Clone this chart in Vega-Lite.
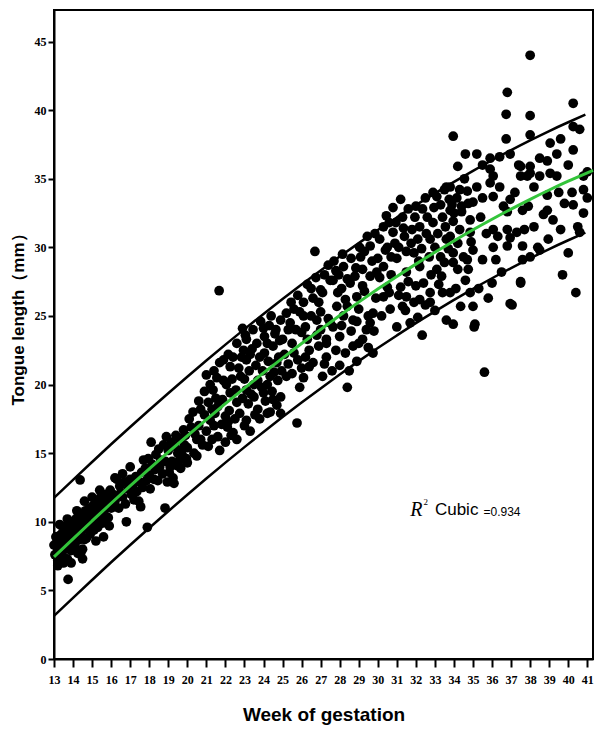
{
  "$schema": "https://vega.github.io/schema/vega-lite/v6.json",
  "width": 539,
  "height": 649,
  "autosize": {"type": "none"},
  "padding": {"left": 54, "top": 10, "right": 1, "bottom": 72},
  "background": "white",
  "config": {
    "view": {"stroke": "black", "strokeWidth": 2},
    "axis": {
      "grid": false,
      "domainColor": "black",
      "domainWidth": 2,
      "tickColor": "black",
      "tickWidth": 2,
      "labelColor": "black",
      "labelFont": "Liberation Serif, serif",
      "labelFontWeight": "bold",
      "labelFontSize": 12,
      "labelOverlap": false,
      "labelFlush": false,
      "titleColor": "black",
      "titleFontWeight": "bold",
      "titleFont": "Liberation Sans, Arial, sans-serif"
    },
    "axisX": {"tickSize": 8, "labelPadding": 7, "titleFontSize": 19, "titlePadding": 20},
    "axisY": {"tickSize": 6, "labelPadding": 2, "titleFontSize": 17, "titlePadding": 7, "titleY": 305}
  },
  "datasets": {
    "pts": [
      {"w":13.0,"t":8.3},{"w":13.05,"t":7.6},{"w":13.1,"t":8.9},{"w":13.2,"t":7.2},{"w":13.25,"t":8.0},{"w":13.3,"t":9.0},{"w":13.35,"t":7.5},{"w":13.4,"t":8.6},{"w":13.45,"t":9.2},{"w":13.5,"t":7.0},{"w":13.55,"t":8.2},{"w":13.6,"t":9.5},{"w":13.65,"t":8.8},{"w":13.7,"t":7.3},{"w":13.74,"t":5.8},{"w":13.75,"t":9.9},{"w":13.8,"t":8.4},{"w":13.85,"t":9.3},{"w":13.9,"t":7.9},{"w":13.95,"t":10.0},{"w":14.0,"t":8.9},{"w":14.05,"t":9.6},{"w":14.1,"t":8.3},{"w":14.15,"t":10.2},{"w":14.2,"t":9.1},{"w":14.25,"t":7.7},{"w":14.3,"t":9.8},{"w":14.35,"t":8.7},{"w":14.37,"t":13.05},{"w":14.4,"t":10.4},{"w":14.45,"t":9.3},{"w":14.5,"t":8.0},{"w":14.55,"t":10.0},{"w":14.6,"t":9.5},{"w":14.65,"t":10.8},{"w":14.7,"t":8.8},{"w":14.75,"t":10.3},{"w":14.8,"t":9.7},{"w":14.85,"t":11.0},{"w":14.9,"t":9.1},{"w":14.95,"t":10.5},{"w":15.0,"t":10.0},{"w":15.05,"t":11.2},{"w":15.1,"t":9.4},{"w":15.15,"t":10.7},{"w":15.2,"t":11.5},{"w":15.25,"t":10.1},{"w":15.3,"t":9.6},{"w":15.35,"t":11.0},{"w":15.4,"t":10.4},{"w":15.45,"t":11.8},{"w":15.5,"t":10.8},{"w":15.55,"t":9.9},{"w":15.6,"t":11.3},{"w":15.65,"t":10.5},{"w":15.7,"t":12.0},{"w":15.75,"t":11.0},{"w":15.8,"t":11.8},{"w":15.85,"t":10.3},{"w":15.9,"t":11.5},{"w":15.95,"t":12.3},{"w":16.0,"t":11.0},{"w":13.5,"t":7.4},{"w":13.9,"t":8.0},{"w":14.4,"t":7.7},{"w":14.6,"t":8.7},{"w":13.15,"t":8.5},{"w":13.6,"t":8.0},{"w":14.1,"t":9.5},{"w":14.8,"t":10.2},
      {"w":13.3,"t":9.8},{"w":13.7,"t":10.2},{"w":14.2,"t":10.8},{"w":14.6,"t":11.5},{"w":15.0,"t":11.8},{"w":15.4,"t":12.3},{"w":13.9,"t":7.0},{"w":14.5,"t":7.3},{"w":15.2,"t":8.6},{"w":15.6,"t":8.9},{"w":13.2,"t":6.8},{"w":15.9,"t":9.7},{"w":16.2,"t":13.2},{"w":16.6,"t":13.5},
      {"w":16.15,"t":11.1},{"w":16.3,"t":13.1},{"w":16.5,"t":12.1},{"w":16.8,"t":10.0},{"w":17.0,"t":14.0},{"w":17.2,"t":11.6},{"w":17.6,"t":13.6},{"w":17.7,"t":14.5},{"w":17.9,"t":9.6},{"w":18.1,"t":15.8},{"w":18.25,"t":13.1},{"w":18.6,"t":14.5},{"w":18.83,"t":11.0},{"w":18.9,"t":16.2},{"w":19.1,"t":14.0},{"w":19.3,"t":12.8},{"w":19.7,"t":15.2},{"w":19.8,"t":16.7},{"w":20.0,"t":14.3},{"w":16.1,"t":12.0},{"w":16.2,"t":11.5},{"w":16.4,"t":11.0},{"w":16.45,"t":12.6},{"w":16.6,"t":11.8},{"w":16.7,"t":12.9},{"w":16.75,"t":11.3},{"w":16.9,"t":12.4},{"w":17.0,"t":13.1},{"w":17.05,"t":12.0},{"w":17.15,"t":12.7},{"w":17.3,"t":13.3},{"w":17.35,"t":12.2},{"w":17.45,"t":11.5},{"w":17.5,"t":12.9},{"w":17.55,"t":11.1},{"w":17.65,"t":12.5},{"w":17.8,"t":13.9},{"w":17.85,"t":13.0},{"w":17.95,"t":14.6},{"w":18.0,"t":13.4},{"w":18.05,"t":12.4},{"w":18.15,"t":14.2},{"w":18.3,"t":13.8},{"w":18.35,"t":14.9},{"w":18.45,"t":13.0},{"w":18.5,"t":15.3},{"w":18.55,"t":14.0},{"w":18.7,"t":13.5},{"w":18.75,"t":15.6},{"w":18.85,"t":14.4},{"w":18.95,"t":12.9},{"w":19.0,"t":15.2},{"w":19.05,"t":13.6},{"w":19.15,"t":15.8},{"w":19.2,"t":14.4},{"w":19.25,"t":13.2},{"w":19.35,"t":15.5},{"w":19.4,"t":16.3},{"w":19.45,"t":14.1},{"w":19.5,"t":15.0},{"w":19.55,"t":16.1},{"w":19.6,"t":14.5},{"w":19.65,"t":13.9},{"w":19.75,"t":14.8},{"w":19.85,"t":15.6},{"w":19.9,"t":16.3},{"w":19.95,"t":14.6},{"w":20.0,"t":15.4},
      {"w":20.35,"t":15.0},{"w":20.7,"t":18.2},{"w":20.5,"t":16.0},{"w":20.2,"t":16.9},{"w":21.6,"t":18.4},{"w":22.6,"t":18.7},{"w":23.7,"t":18.2},{"w":24.35,"t":18.0},{"w":24.9,"t":17.9},{"w":21.2,"t":17.4},{"w":22.1,"t":16.9},{"w":23.1,"t":17.4},{"w":20.7,"t":16.0},{"w":21.6,"t":16.2},{"w":22.4,"t":16.5},{"w":21.7,"t":15.2},{"w":21.35,"t":19.6},{"w":22.25,"t":19.4},{"w":23.1,"t":19.6},{"w":24.0,"t":19.4},{"w":24.9,"t":19.1},{"w":21.0,"t":20.7},{"w":21.9,"t":20.3},{"w":22.8,"t":20.6},{"w":23.7,"t":20.3},{"w":24.35,"t":20.6},{"w":22.25,"t":21.3},{"w":21.7,"t":21.6},{"w":23.1,"t":21.8},{"w":23.8,"t":22.0},{"w":24.7,"t":21.6},{"w":22.9,"t":24.1},{"w":24.0,"t":24.1},{"w":24.9,"t":24.7},{"w":23.1,"t":23.3},{"w":24.2,"t":23.0},{"w":21.67,"t":26.84},{"w":20.1,"t":17.5},{"w":20.4,"t":16.4},{"w":20.6,"t":17.0},{"w":20.8,"t":15.6},{"w":20.9,"t":17.8},{"w":21.0,"t":16.6},{"w":21.1,"t":18.7},{"w":21.3,"t":16.0},{"w":21.45,"t":17.9},{"w":21.5,"t":19.0},{"w":21.8,"t":17.1},{"w":21.85,"t":18.9},{"w":22.0,"t":17.7},{"w":22.05,"t":20.0},{"w":22.2,"t":18.1},{"w":22.3,"t":16.3},{"w":22.35,"t":20.4},{"w":22.5,"t":17.5},{"w":22.55,"t":19.6},{"w":22.7,"t":21.2},{"w":22.75,"t":17.9},{"w":22.9,"t":19.0},{"w":22.95,"t":22.5},{"w":23.0,"t":20.4},{"w":23.2,"t":18.6},{"w":23.25,"t":21.0},{"w":23.35,"t":19.3},{"w":23.4,"t":22.6},{"w":23.5,"t":20.0},{"w":23.55,"t":17.8},{"w":23.6,"t":21.4},{"w":23.9,"t":19.8},{"w":23.95,"t":21.0},{"w":24.05,"t":22.3},{"w":24.1,"t":18.8},{"w":24.2,"t":20.0},{"w":24.25,"t":21.7},{"w":24.45,"t":19.5},{"w":24.5,"t":22.8},{"w":24.55,"t":20.9},{"w":24.6,"t":23.7},{"w":24.7,"t":18.5},{"w":24.75,"t":20.3},{"w":24.8,"t":22.0},{"w":24.95,"t":21.0},{"w":24.2,"t":17.9},{"w":22.0,"t":15.8},{"w":23.3,"t":16.6},
      {"w":20.3,"t":18.0},{"w":20.6,"t":18.8},{"w":20.9,"t":19.5},{"w":21.2,"t":20.0},{"w":21.4,"t":21.0},{"w":21.55,"t":20.5},{"w":21.9,"t":21.8},{"w":22.15,"t":22.2},{"w":22.4,"t":22.0},{"w":22.6,"t":23.0},{"w":22.85,"t":22.0},{"w":23.05,"t":23.6},{"w":23.3,"t":22.2},{"w":23.45,"t":24.0},{"w":23.65,"t":23.0},{"w":23.85,"t":24.6},{"w":24.05,"t":23.5},{"w":24.3,"t":24.3},{"w":24.4,"t":25.0},{"w":24.65,"t":24.0},{"w":24.85,"t":23.2},{"w":20.5,"t":14.8},{"w":21.1,"t":15.5},{"w":21.4,"t":17.0},{"w":22.6,"t":16.0},{"w":23.0,"t":17.0},{"w":23.8,"t":17.5},{"w":24.5,"t":18.9},{"w":21.3,"t":18.2},{"w":22.15,"t":17.3},{"w":23.5,"t":19.1},
      {"w":25.9,"t":25.3},{"w":27.1,"t":26.7},{"w":27.65,"t":27.6},{"w":27.85,"t":25.7},{"w":26.8,"t":24.7},{"w":25.4,"t":24.5},{"w":25.0,"t":23.3},{"w":26.3,"t":23.3},{"w":27.3,"t":23.3},{"w":27.65,"t":24.2},{"w":25.8,"t":21.8},{"w":26.6,"t":21.6},{"w":27.3,"t":22.0},{"w":25.2,"t":20.6},{"w":26.1,"t":20.5},{"w":27.1,"t":20.6},{"w":25.9,"t":19.8},{"w":25.76,"t":17.2},{"w":26.7,"t":29.7},{"w":27.5,"t":27.6},{"w":28.55,"t":27.4},{"w":29.6,"t":27.9},{"w":27.0,"t":26.9},{"w":27.9,"t":26.7},{"w":28.9,"t":26.4},{"w":28.4,"t":25.7},{"w":29.75,"t":25.2},{"w":27.5,"t":24.5},{"w":28.7,"t":24.7},{"w":29.4,"t":24.0},{"w":28.0,"t":23.5},{"w":29.2,"t":23.3},{"w":28.7,"t":22.8},{"w":27.3,"t":23.0},{"w":29.75,"t":22.3},{"w":27.0,"t":24.0},{"w":28.2,"t":28.6},{"w":29.2,"t":28.4},{"w":29.1,"t":29.3},{"w":29.6,"t":30.1},{"w":28.4,"t":19.8},{"w":25.1,"t":22.2},{"w":25.3,"t":21.5},{"w":25.5,"t":23.0},{"w":25.6,"t":22.3},{"w":25.7,"t":24.0},{"w":26.0,"t":21.2},{"w":26.2,"t":24.2},{"w":26.4,"t":22.5},{"w":26.5,"t":25.0},{"w":26.9,"t":22.8},{"w":27.2,"t":21.5},{"w":26.0,"t":23.8},{"w":28.1,"t":24.3},{"w":28.3,"t":26.2},{"w":28.6,"t":23.9},{"w":28.8,"t":27.9},{"w":29.0,"t":25.5},{"w":29.3,"t":26.8},{"w":29.5,"t":25.0},{"w":29.9,"t":26.3},{"w":29.95,"t":28.2},{"w":28.0,"t":21.4},{"w":28.9,"t":21.7},{"w":29.5,"t":22.7},{"w":26.6,"t":26.3},{"w":27.8,"t":28.3},{"w":28.3,"t":22.3},{"w":25.3,"t":24.0},{"w":26.2,"t":22.0},{"w":27.0,"t":25.3},{"w":27.6,"t":21.0},{"w":28.1,"t":27.0},{"w":28.9,"t":24.6},{"w":29.2,"t":27.2},{"w":29.8,"t":23.9},
      {"w":25.2,"t":25.2},{"w":25.45,"t":26.0},{"w":25.6,"t":25.5},{"w":25.8,"t":26.5},{"w":26.1,"t":26.0},{"w":26.3,"t":27.3},{"w":26.5,"t":27.0},{"w":26.75,"t":27.8},{"w":26.9,"t":26.0},{"w":27.2,"t":28.0},{"w":27.4,"t":28.7},{"w":27.7,"t":29.0},{"w":27.95,"t":28.0},{"w":28.15,"t":29.5},{"w":28.4,"t":27.7},{"w":28.6,"t":29.2},{"w":28.85,"t":28.5},{"w":29.05,"t":30.0},{"w":29.3,"t":29.7},{"w":29.45,"t":30.8},{"w":29.7,"t":29.0},{"w":29.85,"t":31.0},{"w":25.5,"t":20.8},{"w":26.4,"t":21.3},{"w":26.8,"t":23.6},{"w":27.4,"t":24.8},{"w":28.2,"t":25.0},{"w":28.5,"t":21.0},{"w":29.0,"t":23.0},{"w":29.6,"t":24.5},{"w":26.1,"t":25.0},{"w":27.8,"t":22.5},
      {"w":30.8,"t":32.9},{"w":31.3,"t":32.2},{"w":32.6,"t":32.2},{"w":32.9,"t":31.8},{"w":32.2,"t":31.5},{"w":33.96,"t":31.9},{"w":34.3,"t":31.3},{"w":34.85,"t":31.1},{"w":30.8,"t":31.1},{"w":32.1,"t":30.6},{"w":32.75,"t":30.6},{"w":33.6,"t":30.6},{"w":30.5,"t":30.0},{"w":30.0,"t":29.2},{"w":31.0,"t":29.2},{"w":31.9,"t":29.6},{"w":33.3,"t":29.3},{"w":33.96,"t":29.6},{"w":34.7,"t":29.1},{"w":30.3,"t":28.6},{"w":31.5,"t":28.2},{"w":32.2,"t":28.6},{"w":33.1,"t":28.4},{"w":34.2,"t":28.4},{"w":30.5,"t":27.1},{"w":31.2,"t":27.1},{"w":32.4,"t":27.4},{"w":30.3,"t":26.4},{"w":31.5,"t":26.4},{"w":32.75,"t":26.7},{"w":30.65,"t":25.5},{"w":31.3,"t":25.7},{"w":32.1,"t":24.9},{"w":32.75,"t":26.0},{"w":31.0,"t":24.2},{"w":31.7,"t":24.5},{"w":32.33,"t":23.6},{"w":33.6,"t":34.4},{"w":33.1,"t":33.7},{"w":33.9,"t":33.1},{"w":34.7,"t":34.1},{"w":33.96,"t":38.1},{"w":34.2,"t":35.9},{"w":34.6,"t":36.8},{"w":33.8,"t":34.4},{"w":33.5,"t":34.2},{"w":34.3,"t":34.2},{"w":34.4,"t":33.0},{"w":33.8,"t":32.7},{"w":33.4,"t":32.2},{"w":34.85,"t":32.0},{"w":33.8,"t":30.8},{"w":34.2,"t":30.3},{"w":34.5,"t":29.3},{"w":33.96,"t":28.9},{"w":33.8,"t":26.7},{"w":34.85,"t":26.7},{"w":33.6,"t":24.7},{"w":33.96,"t":24.4},{"w":33.4,"t":26.7},{"w":35.0,"t":33.3},{"w":35.0,"t":29.8},{"w":35.0,"t":25.7},{"w":35.1,"t":24.4},{"w":30.1,"t":27.8},{"w":30.4,"t":29.8},{"w":30.7,"t":28.0},{"w":30.9,"t":30.3},{"w":31.1,"t":26.5},{"w":31.4,"t":30.8},{"w":31.6,"t":27.5},{"w":31.8,"t":31.3},{"w":32.0,"t":27.2},{"w":32.3,"t":29.9},{"w":32.5,"t":25.8},{"w":32.8,"t":28.0},{"w":33.0,"t":30.0},{"w":33.2,"t":27.3},{"w":33.5,"t":28.9},{"w":33.7,"t":29.9},{"w":34.1,"t":27.0},{"w":34.4,"t":32.6},{"w":34.6,"t":27.6},{"w":34.9,"t":30.4},{"w":31.2,"t":33.5},{"w":32.0,"t":33.0},{"w":32.5,"t":33.6},{"w":30.6,"t":31.8},{"w":31.6,"t":32.8},{"w":32.9,"t":34.0},{"w":30.2,"t":25.0},{"w":31.9,"t":26.0},
      {"w":30.1,"t":30.6},{"w":30.3,"t":31.5},{"w":30.45,"t":32.3},{"w":30.7,"t":29.3},{"w":30.95,"t":31.8},{"w":31.1,"t":30.0},{"w":31.35,"t":31.4},{"w":31.5,"t":29.7},{"w":31.75,"t":30.3},{"w":31.95,"t":32.2},{"w":32.15,"t":29.0},{"w":32.35,"t":32.8},{"w":32.55,"t":31.0},{"w":32.7,"t":29.3},{"w":32.95,"t":32.9},{"w":33.15,"t":31.0},{"w":33.3,"t":33.1},{"w":33.55,"t":31.5},{"w":33.75,"t":33.5},{"w":34.0,"t":32.5},{"w":34.15,"t":33.6},{"w":34.55,"t":35.0},{"w":34.75,"t":33.2},{"w":30.6,"t":26.7},{"w":31.45,"t":25.4},{"w":32.2,"t":26.2},{"w":33.0,"t":25.4},{"w":33.35,"t":27.9},{"w":34.35,"t":25.7},{"w":34.75,"t":28.4},
      {"w":36.8,"t":41.3},{"w":38.0,"t":44.0},{"w":36.74,"t":39.7},{"w":38.0,"t":39.6},{"w":40.26,"t":40.5},{"w":36.74,"t":37.9},{"w":38.0,"t":38.2},{"w":40.26,"t":38.8},{"w":40.6,"t":38.6},{"w":35.2,"t":36.8},{"w":35.9,"t":36.5},{"w":36.4,"t":36.6},{"w":36.95,"t":36.8},{"w":35.5,"t":36.0},{"w":37.5,"t":35.9},{"w":38.0,"t":35.9},{"w":38.5,"t":36.5},{"w":38.9,"t":36.3},{"w":39.4,"t":36.8},{"w":39.05,"t":37.6},{"w":39.6,"t":37.9},{"w":40.26,"t":37.1},{"w":38.0,"t":35.4},{"w":38.5,"t":35.2},{"w":39.05,"t":35.4},{"w":39.4,"t":35.2},{"w":40.8,"t":35.2},{"w":40.8,"t":34.2},{"w":40.2,"t":34.0},{"w":38.2,"t":34.4},{"w":38.9,"t":33.8},{"w":39.5,"t":34.0},{"w":40.26,"t":33.1},{"w":40.8,"t":32.5},{"w":38.9,"t":32.7},{"w":38.7,"t":32.4},{"w":37.6,"t":32.7},{"w":37.7,"t":31.3},{"w":38.2,"t":31.5},{"w":39.6,"t":31.3},{"w":40.5,"t":31.5},{"w":40.6,"t":31.1},{"w":38.95,"t":30.6},{"w":38.5,"t":29.8},{"w":38.0,"t":29.3},{"w":40.0,"t":29.6},{"w":39.7,"t":28.0},{"w":40.4,"t":26.7},{"w":37.5,"t":27.5},{"w":36.95,"t":25.9},{"w":35.6,"t":20.9},{"w":36.0,"t":27.4},{"w":35.5,"t":29.1},{"w":36.2,"t":29.1},{"w":36.8,"t":30.1},{"w":36.3,"t":30.8},{"w":36.8,"t":31.3},{"w":36.06,"t":31.3},{"w":35.4,"t":32.2},{"w":35.5,"t":33.6},{"w":36.06,"t":33.7},{"w":35.2,"t":34.4},{"w":35.9,"t":34.7},{"w":36.4,"t":34.4},{"w":36.8,"t":32.6},{"w":36.95,"t":33.5},{"w":37.4,"t":36.0},{"w":37.85,"t":35.2},{"w":37.5,"t":35.2},{"w":41.0,"t":35.5},{"w":35.9,"t":35.7},{"w":36.06,"t":35.2},{"w":36.06,"t":30.0},{"w":36.95,"t":30.7},{"w":37.6,"t":29.1},{"w":38.4,"t":30.0},{"w":37.6,"t":30.1},{"w":37.3,"t":31.1},{"w":35.06,"t":24.2},{"w":37.05,"t":25.8},{"w":37.5,"t":27.4},{"w":35.3,"t":27.0},{"w":35.8,"t":26.3},{"w":36.5,"t":28.2},{"w":37.2,"t":34.0},{"w":39.2,"t":32.0},{"w":39.8,"t":33.2},{"w":40.0,"t":36.0},{"w":41.0,"t":33.6},{"w":35.7,"t":31.0},{"w":36.6,"t":33.0},{"w":37.9,"t":33.0}
    ],
    "fit": [
      {"w":13,"m":7.44},{"w":14,"m":8.76},{"w":15,"m":10.06},{"w":16,"m":11.35},{"w":17,"m":12.61},{"w":18,"m":13.85},{"w":19,"m":15.07},{"w":20,"m":16.27},{"w":21,"m":17.45},{"w":22,"m":18.61},{"w":23,"m":19.74},{"w":24,"m":20.85},{"w":25,"m":21.93},{"w":26,"m":22.99},{"w":27,"m":24.02},{"w":28,"m":25.03},{"w":29,"m":26.01},{"w":30,"m":26.96},{"w":31,"m":27.88},{"w":32,"m":28.78},{"w":33,"m":29.64},{"w":34,"m":30.47},{"w":35,"m":31.28},{"w":36,"m":32.05},{"w":37,"m":32.79},{"w":38,"m":33.5},{"w":39,"m":34.18},{"w":40,"m":34.82},{"w":41,"m":35.43},{"w":41.3,"m":35.61}
    ],
    "band": [
      {"w":13,"hi":11.74,"lo":3.14},{"w":14,"hi":13.06,"lo":4.46},{"w":15,"hi":14.36,"lo":5.76},{"w":16,"hi":15.65,"lo":7.05},{"w":17,"hi":16.91,"lo":8.31},{"w":18,"hi":18.15,"lo":9.55},{"w":19,"hi":19.37,"lo":10.77},{"w":20,"hi":20.57,"lo":11.97},{"w":21,"hi":21.75,"lo":13.15},{"w":22,"hi":22.91,"lo":14.31},{"w":23,"hi":24.04,"lo":15.44},{"w":24,"hi":25.15,"lo":16.55},{"w":25,"hi":26.23,"lo":17.63},{"w":26,"hi":27.29,"lo":18.69},{"w":27,"hi":28.32,"lo":19.72},{"w":28,"hi":29.33,"lo":20.73},{"w":29,"hi":30.31,"lo":21.71},{"w":30,"hi":31.26,"lo":22.66},{"w":31,"hi":32.18,"lo":23.58},{"w":32,"hi":33.08,"lo":24.48},{"w":33,"hi":33.94,"lo":25.34},{"w":34,"hi":34.77,"lo":26.17},{"w":35,"hi":35.58,"lo":26.98},{"w":36,"hi":36.35,"lo":27.75},{"w":37,"hi":37.09,"lo":28.49},{"w":38,"hi":37.8,"lo":29.2},{"w":39,"hi":38.48,"lo":29.88},{"w":40,"hi":39.12,"lo":30.52},{"w":40.9,"hi":39.67,"lo":31.07}
    ]
  },
  "encoding": {
    "x": {
      "field": "w", "type": "quantitative",
      "scale": {"domain": [13, 41.3], "nice": false, "zero": false},
      "axis": {
        "title": "Week of gestation",
        "values": [13,14,15,16,17,18,19,20,21,22,23,24,25,26,27,28,29,30,31,32,33,34,35,36,37,38,39,40,41],
        "labelOverlap": false
      }
    }
  },
  "layer": [
    {
      "data": {"name": "pts"},
      "mark": {"type": "circle", "size": 95, "color": "black", "opacity": 1},
      "encoding": {
        "y": {
          "field": "t", "type": "quantitative",
          "scale": {"domain": [0, 47.3], "nice": false, "zero": false},
          "axis": {"title": "Tongue length（mm）", "values": [0,5,10,15,20,25,30,35,40,45]}
        }
      }
    },
    {
      "data": {"name": "band"},
      "mark": {"type": "line", "color": "black", "strokeWidth": 2.5, "interpolate": "monotone"},
      "encoding": {
        "y": {"field": "hi", "type": "quantitative", "scale": {"domain": [0, 47.3], "nice": false, "zero": false}, "axis": {"title": "Tongue length（mm）", "values": [0,5,10,15,20,25,30,35,40,45]}}
      }
    },
    {
      "data": {"name": "band"},
      "mark": {"type": "line", "color": "black", "strokeWidth": 2.5, "interpolate": "monotone"},
      "encoding": {
        "y": {"field": "lo", "type": "quantitative", "scale": {"domain": [0, 47.3], "nice": false, "zero": false}, "axis": {"title": "Tongue length（mm）", "values": [0,5,10,15,20,25,30,35,40,45]}}
      }
    },
    {
      "data": {"name": "fit"},
      "mark": {"type": "line", "color": "#33c43a", "strokeWidth": 3, "interpolate": "monotone"},
      "encoding": {
        "y": {"field": "m", "type": "quantitative", "scale": {"domain": [0, 47.3], "nice": false, "zero": false}, "axis": {"title": "Tongue length（mm）", "values": [0,5,10,15,20,25,30,35,40,45]}}
      }
    },
    {
      "data": {"values": [{"s": "R", "w": 31.7, "t": 10.87}]},
      "mark": {"type": "text", "font": "Liberation Serif, serif", "fontStyle": "italic", "fontSize": 20, "align": "left", "baseline": "middle", "color": "black"},
      "encoding": {
        "y": {"field": "t", "type": "quantitative", "scale": {"domain": [0, 47.3], "nice": false, "zero": false}, "axis": {"title": "Tongue length（mm）", "values": [0,5,10,15,20,25,30,35,40,45]}},
        "text": {"field": "s"}
      }
    },
    {
      "data": {"values": [{"s": "2", "w": 32.4, "t": 11.45}]},
      "mark": {"type": "text", "font": "Liberation Serif, serif", "fontSize": 9, "align": "left", "baseline": "middle", "color": "black"},
      "encoding": {
        "y": {"field": "t", "type": "quantitative", "scale": {"domain": [0, 47.3], "nice": false, "zero": false}, "axis": {"title": "Tongue length（mm）", "values": [0,5,10,15,20,25,30,35,40,45]}},
        "text": {"field": "s"}
      }
    },
    {
      "data": {"values": [{"s": "Cubic", "w": 33.0, "t": 10.87}]},
      "mark": {"type": "text", "font": "Liberation Sans, Arial, sans-serif", "fontSize": 17, "align": "left", "baseline": "middle", "color": "black"},
      "encoding": {
        "y": {"field": "t", "type": "quantitative", "scale": {"domain": [0, 47.3], "nice": false, "zero": false}, "axis": {"title": "Tongue length（mm）", "values": [0,5,10,15,20,25,30,35,40,45]}},
        "text": {"field": "s"}
      }
    },
    {
      "data": {"values": [{"s": "=0.934", "w": 35.55, "t": 10.75}]},
      "mark": {"type": "text", "font": "Liberation Sans, Arial, sans-serif", "fontSize": 12, "align": "left", "baseline": "middle", "color": "black"},
      "encoding": {
        "y": {"field": "t", "type": "quantitative", "scale": {"domain": [0, 47.3], "nice": false, "zero": false}, "axis": {"title": "Tongue length（mm）", "values": [0,5,10,15,20,25,30,35,40,45]}},
        "text": {"field": "s"}
      }
    }
  ]
}
